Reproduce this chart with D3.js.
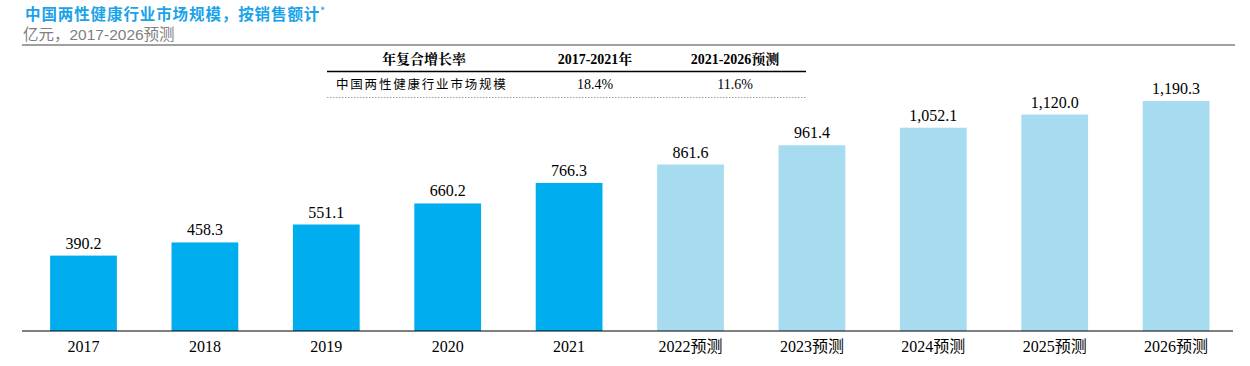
<!DOCTYPE html>
<html>
<head>
<meta charset="utf-8">
<script src="https://cdn.jsdelivr.net/npm/d3@7"></script>
<style>
  body { margin: 0; background: #fff; }
  svg { display: block; }
</style>
</head>
<body>
<svg id="chart"></svg>
<script>
// chart data
var years = ["2017", "2018", "2019", "2020", "2021", "2022预测", "2023预测", "2024预测", "2025预测", "2026预测"];
var values = [390.2, 458.3, 551.1, 660.2, 766.3, 861.6, 961.4, 1052.1, 1120.0, 1190.3];
var isForecast = [false, false, false, false, false, true, true, true, true, true];

// CAGR table
var cagrHeader = ["年复合增长率", "2017-2021年", "2021-2026预测"];
var cagrRow = ["中国两性健康行业市场规模", "18.4%", "11.6%"];

var W = 1250, H = 366;
var svg = d3.select("#chart").attr("width", W).attr("height", H);

var serif = "'Liberation Serif', 'Times New Roman', serif";
var cjk = "'Noto Sans CJK SC', sans-serif";

// title
var title = svg.append("text")
  .attr("x", 25).attr("y", 20)
  .attr("font-family", cjk).attr("font-size", 15.5).attr("font-weight", "bold")
  .attr("letter-spacing", 0.9)
  .attr("fill", "#1aa3e8");
title.append("tspan").text("中国两性健康行业市场规模，按销售额计");
title.append("tspan").attr("font-size", 9).attr("dy", -6).text("*");

svg.append("text")
  .attr("x", 23).attr("y", 40)
  .attr("font-family", "'Liberation Sans', " + cjk).attr("font-size", 15.5)
  .attr("fill", "#808080")
  .text("亿元，2017-2026预测");

svg.append("line")
  .attr("x1", 22).attr("x2", 1235).attr("y1", 45).attr("y2", 45)
  .attr("stroke", "#808080").attr("stroke-width", 1.5);

// scales
var baseY = 331;
var x = d3.scaleBand().domain(years).range([22.8, 1236.8]).paddingInner(0.45).paddingOuter(0.225);
var y = d3.scaleLinear().domain([0, 1190.3]).range([baseY, 101]);

var g = svg.append("g");

g.selectAll(".bar")
  .data(values)
  .enter()
  .append("rect")
  .attr("class", "bar")
  .attr("x", function (d, i) { return x(years[i]); })
  .attr("width", x.bandwidth())
  .attr("y", function (d) { return y(d); })
  .attr("height", function (d) { return baseY - y(d); })
  .attr("fill", function (d, i) { return isForecast[i] ? "#a7dcf0" : "#00adef"; });

g.selectAll(".val")
  .data(values)
  .enter()
  .append("text")
  .attr("class", "val")
  .attr("x", function (d, i) { return x(years[i]) + x.bandwidth() / 2; })
  .attr("y", function (d) { return y(d) - 7; })
  .attr("text-anchor", "middle")
  .attr("font-family", serif).attr("font-size", 16)
  .attr("fill", "#000")
  .text(function (d) { return d3.format(",.1f")(d); });

// x axis
var xAxis = svg.append("g")
  .attr("transform", "translate(0," + baseY + ")")
  .call(d3.axisBottom(x).tickSize(0).tickPadding(10));
xAxis.select(".domain").attr("d", "M22,0H1233").attr("stroke", "#000").attr("stroke-width", 1.2);
xAxis.selectAll("text")
  .attr("font-family", serif + ", " + cjk)
  .attr("font-size", 16)
  .attr("fill", "#000")
  .attr("dy", "0.71em");

// CAGR table
var colX = [424, 595, 735];
svg.selectAll(".hdr")
  .data(cagrHeader)
  .enter()
  .append("text")
  .attr("x", function (d, i) { return colX[i]; })
  .attr("y", 64)
  .attr("text-anchor", "middle")
  .attr("font-family", serif + ", 'Noto Serif CJK SC', " + cjk)
  .attr("font-weight", "bold")
  .attr("font-size", 14)
  .attr("fill", "#000")
  .text(function (d) { return d; });

svg.append("line")
  .attr("x1", 327).attr("x2", 806).attr("y1", 71.5).attr("y2", 71.5)
  .attr("stroke", "#000").attr("stroke-width", 1.5);

svg.append("text")
  .attr("x", 336).attr("y", 89)
  .attr("font-family", cjk).attr("font-size", 12.5)
  .attr("letter-spacing", 1.8)
  .attr("fill", "#000")
  .text(cagrRow[0]);
svg.selectAll(".cell")
  .data(cagrRow.slice(1))
  .enter()
  .append("text")
  .attr("x", function (d, i) { return colX[i + 1]; })
  .attr("y", 89)
  .attr("text-anchor", "middle")
  .attr("font-family", serif).attr("font-size", 14)
  .attr("fill", "#000")
  .text(function (d) { return d; });

svg.append("line")
  .attr("x1", 327).attr("x2", 806).attr("y1", 97.5).attr("y2", 97.5)
  .attr("stroke", "#a0a0a0").attr("stroke-width", 1).attr("stroke-dasharray", "1.5,1.5");
</script>
</body>
</html>
